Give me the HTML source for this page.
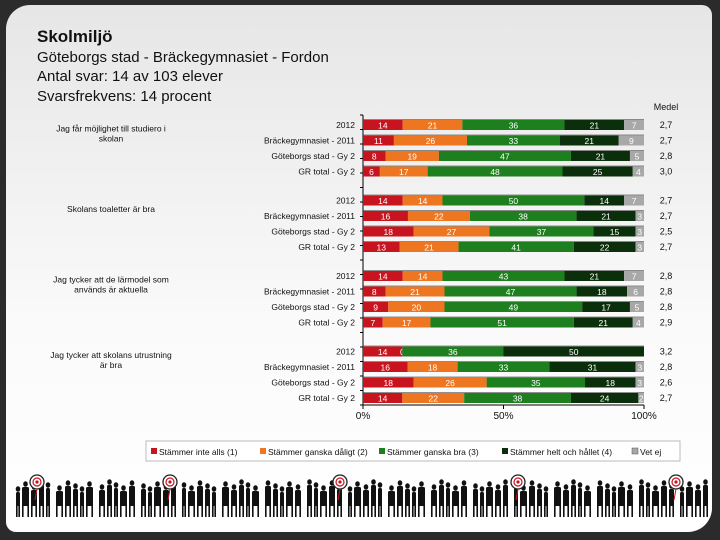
<!DOCTYPE html>
<html><head><meta charset="utf-8"><style>
body{margin:0;width:720px;height:540px;background:#2b2b2b;font-family:"Liberation Sans",sans-serif;overflow:hidden;position:relative}
#card{position:absolute;left:6px;top:5px;width:706px;height:527px;border-radius:24px 10px 24px 10px;background:linear-gradient(#e6e6e6,#fafafa 60%,#fff)}
.t{position:absolute;left:37px;color:#111}
svg{position:absolute;left:0;top:0}
</style></head><body>
<div id="card"></div>
<div class="t" style="top:27px;font-size:17px;font-weight:bold">Skolmiljö</div>
<div class="t" style="top:49px;font-size:15px">Göteborgs stad - Bräckegymnasiet - Fordon</div>
<div class="t" style="top:68px;font-size:15px">Antal svar: 14 av 103 elever</div>
<div class="t" style="top:88px;font-size:15px">Svarsfrekvens: 14 procent</div>
<svg id="ch" width="720" height="540"></svg>
<script>
const questions=["Jag får möjlighet till studiero i|skolan","Skolans toaletter är bra","Jag tycker att de lärmodel som|används är aktuella","Jag tycker att skolans utrustning|är bra"];
const rowLabels=["2012","Bräckegymnasiet - 2011","Göteborgs stad - Gy 2","GR total - Gy 2"];
const seriesNames=["Stämmer inte alls (1)","Stämmer ganska dåligt (2)","Stämmer ganska bra (3)","Stämmer helt och hållet (4)","Vet ej"];
const values=[
[[14,21,36,21,7],[11,26,33,21,9],[8,19,47,21,5],[6,17,48,25,4]],
[[14,14,50,14,7],[16,22,38,21,3],[18,27,37,15,3],[13,21,41,22,3]],
[[14,14,43,21,7],[8,21,47,18,6],[9,20,49,17,5],[7,17,51,21,4]],
[[14,0,36,50,0],[16,18,33,31,3],[18,26,35,18,3],[14,22,38,24,2]]];
const means=[["2,7","2,7","2,8","3,0"],["2,7","2,7","2,5","2,7"],["2,8","2,8","2,8","2,9"],["3,2","2,8","2,6","2,7"]];
const ticks=["0%","50%","100%"];
const colors=["#c8141e","#ef7621","#1e7f1e","#0b2e0b","#a8a8a8"];
const svg=document.getElementById('ch');const NS="http://www.w3.org/2000/svg";
function mk(t,a,p){const e=document.createElementNS(NS,t);for(const k in a)e.setAttribute(k,a[k]);(p||svg).appendChild(e);return e;}
const x0=363,x1=644;const xs=p=>x0+(x1-x0)*p/100;
const yRow=(g,r)=>125+g*75.5+r*15.5;
function txt(s,x,y,o){const e=mk('text',Object.assign({x:x,y:y,'font-size':9,fill:'#111'},o||{}));e.textContent=s;return e;}
// axis
let ax=mk('line',{x1:x0,y1:115,x2:x0,y2:405,stroke:'#000','stroke-width':1});

for(let i=0;i<=20;i++){mk('line',{x1:x0-3,x2:x0,y1:115+i*14.5,y2:115+i*14.5,stroke:'#000'});}
let xa=mk('line',{x1:x0,y1:405,x2:x1,y2:405,stroke:'#000'});

ticks.forEach((t,i)=>{const x=xs(i*50);mk('line',{x1:x,x2:x,y1:405,y2:409,stroke:'#000'});
 const e=txt(t,x,419,{'text-anchor':'middle','font-size':10});});
txt("Medel",666,110,{'text-anchor':'middle','font-size':9});
values.forEach((grp,g)=>{
 const ql=questions[g].split('|');const qy=yRow(g,1)-(ql.length-1)*5-4;
 ql.forEach((l,i)=>{const e=txt(l,111,qy+i*10,{'text-anchor':'middle','font-size':8.5});});
 grp.forEach((row,r)=>{
  const y=yRow(g,r);const sum=row.reduce((a,b)=>a+b,0);
  const rl=txt(rowLabels[r],355,y+3,{'text-anchor':'end','font-size':8.5});
  let acc=0;
  row.forEach((v,s)=>{
   const xa=xs(acc/sum*100),xb=xs((acc+v)/sum*100);acc+=v;
   const b=mk('rect',{x:xa,y:y-5,width:Math.max(0,xb-xa),height:10,fill:colors[s]});
   
   if(v>0||s===1){const t=txt(String(v),(xa+xb)/2,y+3.5,{'text-anchor':'middle','font-size':8.5,fill:'#fff'});}
  });
  mk('line',{x1:x0,x2:x1,y1:y-5.5,y2:y-5.5,stroke:'#222','stroke-width':0.6});
  const m=txt(means[g][r],666,y+3,{'text-anchor':'middle','font-size':9});
 });
});
// legend
const lg=mk('rect',{x:146,y:441,width:534,height:20,fill:'#fff',stroke:'#bbb'});

const lx=[161,270,389,512,642];
seriesNames.forEach((n,i)=>{mk('rect',{x:lx[i]-10,y:448,width:6,height:6,fill:colors[i],stroke:i==4?'#555':'none','stroke-width':0.5});
 const e=txt(n,lx[i]-2,455,{'font-size':8.5});});
// people silhouettes decoration
const deco=mk('g',{fill:'#111'});
for(let x=16,i=0;x<705;i++){const w=4+(i*7%4),h=26+(i*5%8);
 mk('ellipse',{cx:x+w/2,cy:517-h-2,rx:2.3,ry:2.8},deco);
 mk('rect',{x:x,y:517-h+1,width:w,height:h-12,rx:1.5},deco);
 mk('rect',{x:x,y:505,width:1.6,height:12},deco);mk('rect',{x:x+w-1.6,y:505,width:1.6,height:12},deco);
 x+=w+2+(i%5==4?4:0);}
[37,170,340,518,676].forEach(cx=>{const g=mk('g',{});
 mk('circle',{cx:cx,cy:482,r:7,fill:'#fff',stroke:'#222','stroke-width':1.3},g);mk('circle',{cx:cx,cy:482,r:4,fill:'#fff',stroke:'#c8141e','stroke-width':1.2},g);mk('circle',{cx:cx,cy:482,r:1.6,fill:'#c8141e'},g);
 mk('line',{x1:cx,y1:489,x2:cx-2,y2:500,stroke:'#c8141e'},g);});
</script>
</body></html>
